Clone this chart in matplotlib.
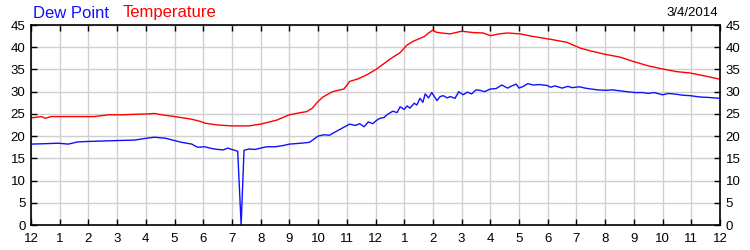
import matplotlib
matplotlib.use('Agg')
import matplotlib.pyplot as plt

plt.rcParams['font.family'] = ['Liberation Sans', 'DejaVu Sans']

# temperature readings (hour of day, value)
temp_hours = [0, 0.37, 0.5, 0.7, 1, 1.6, 2.2, 2.7, 3.2, 3.6, 4.1, 4.3, 4.55, 5.0, 5.3, 5.6, 5.9,
              6.06, 6.5, 7.0, 7.6, 8.0, 8.56, 9.0, 9.4, 9.6, 9.8, 10.0, 10.17, 10.5, 10.9, 11.1,
              11.4, 11.7, 12.04, 12.5, 12.86, 13.1, 13.3, 13.7, 13.85, 14.0, 14.1, 14.3, 14.6,
              14.8, 15.0, 15.4, 15.75, 16.0, 16.3, 16.6, 17.04, 17.5, 18.08, 18.67, 19.13, 19.48,
              20.0, 20.5, 20.98, 21.5, 22.0, 22.5, 22.96, 23.5, 24.0]
temp_values = [24.1, 24.4, 24.0, 24.4, 24.4, 24.4, 24.4, 24.8, 24.8, 24.9, 25.0, 25.1, 24.8, 24.4,
               24.1, 23.8, 23.3, 22.9, 22.5, 22.3, 22.3, 22.7, 23.6, 24.8, 25.3, 25.5, 26.3, 27.8,
               28.8, 30.0, 30.6, 32.3, 32.9, 33.8, 35.1, 37.3, 38.8, 40.5, 41.3, 42.4, 43.2, 43.9,
               43.4, 43.2, 43.0, 43.3, 43.6, 43.3, 43.2, 42.6, 43.0, 43.2, 43.0, 42.4, 41.8, 41.1,
               39.8, 39.2, 38.4, 37.8, 36.8, 35.8, 35.1, 34.5, 34.2, 33.5, 32.8]

# dew point readings (hour of day, value)
dew_hours = [0, 0.5, 0.95, 1.3, 1.5, 1.64, 2, 2.5, 3, 3.6, 4, 4.3, 4.7, 5, 5.25, 5.6, 5.8, 6.06,
             6.3, 6.5, 6.7, 6.85, 7.05, 7.2, 7.32, 7.42, 7.6, 7.8, 8.0, 8.2, 8.5, 8.8, 9.0, 9.4,
             9.7, 9.85, 10.0, 10.2, 10.4, 10.5, 10.7, 10.9, 11.1, 11.3, 11.45, 11.6, 11.75, 11.9,
             12.05, 12.15, 12.3, 12.4, 12.6, 12.75, 12.86, 13.0, 13.1, 13.2, 13.35, 13.44, 13.55,
             13.65, 13.73, 13.85, 13.96, 14.05, 14.14, 14.25, 14.36, 14.5, 14.6, 14.77, 14.9,
             15.05, 15.2, 15.35, 15.5, 15.64, 15.8, 16.0, 16.2, 16.4, 16.6, 16.75, 16.9, 17.0,
             17.15, 17.3, 17.5, 17.7, 17.97, 18.1, 18.25, 18.5, 18.7, 18.85, 19.1, 19.3, 19.5,
             19.75, 20.0, 20.25, 20.5, 20.75, 21.05, 21.3, 21.5, 21.7, 22.0, 22.2, 22.5, 22.7,
             22.96, 23.3, 23.6, 24.0]
dew_values = [18.2, 18.3, 18.4, 18.2, 18.5, 18.7, 18.8, 18.9, 19.0, 19.1, 19.5, 19.75, 19.5, 19.0,
              18.6, 18.2, 17.5, 17.6, 17.2, 17.0, 16.9, 17.3, 16.9, 16.6, 0.0, 16.8, 17.1, 17.0,
              17.3, 17.6, 17.6, 17.9, 18.2, 18.4, 18.6, 19.3, 20.0, 20.3, 20.2, 20.6, 21.3, 22.0,
              22.7, 22.4, 22.8, 22.1, 23.2, 22.8, 23.6, 24.0, 24.2, 24.8, 25.6, 25.3, 26.6, 26.0,
              26.8, 26.3, 27.4, 27.0, 28.5, 27.6, 29.5, 28.6, 29.8, 28.9, 28.0, 28.9, 29.1, 28.6,
              28.9, 28.5, 30.0, 29.3, 29.9, 29.5, 30.4, 30.3, 30.0, 30.6, 30.7, 31.5, 30.8, 31.3,
              31.7, 30.8, 31.2, 31.8, 31.5, 31.6, 31.4, 31.0, 31.3, 30.8, 31.2, 30.9, 31.1, 30.8,
              30.6, 30.4, 30.3, 30.4, 30.2, 30.0, 29.8, 29.8, 29.6, 29.8, 29.3, 29.6, 29.4, 29.2,
              29.1, 28.8, 28.7, 28.5]

hour_labels = ['12'] + [str(i) for i in range(1, 12)] + ['12'] + [str(i) for i in range(1, 12)] + ['12']
y_ticks = list(range(0, 50, 5))

fig = plt.figure(figsize=(7.5, 2.5), dpi=100)
ax = fig.add_axes([31/750, 0.1, 689/750, 0.8])

ax.plot(temp_hours, temp_values, color='#ff0000', lw=1.0)
ax.plot(dew_hours, dew_values, color='#1010ff', lw=1.0)

ax.set_xlim(0, 24)
ax.set_ylim(0, 45)
ax.set_xticks(range(25))
ax.set_xticklabels(hour_labels)
ax.set_yticks(y_ticks)
ax.grid(True, color='#d0d0d0', lw=1.0)
ax.set_axisbelow(True)
ax.tick_params(axis='both', direction='in', length=4, width=1, labelsize=9.5,
               top=True, right=True, labelright=True, pad=4)
ax.tick_params(axis='x', pad=6)
for s in ax.spines.values():
    s.set_linewidth(1.2)
    s.set_color('black')

fig.text(33/750, 1 - 13/250, 'Dew Point', color='#1010ff', fontsize=12, va='center', ha='left')
fig.text(123/750, 1 - 13/250, 'Temperature', color='#ff0000', fontsize=12, va='center', ha='left')
fig.text(718/750, 1 - 13/250, '3/4/2014', color='black', fontsize=9.5, va='center', ha='right')

fig.savefig('out.png', dpi=100)
